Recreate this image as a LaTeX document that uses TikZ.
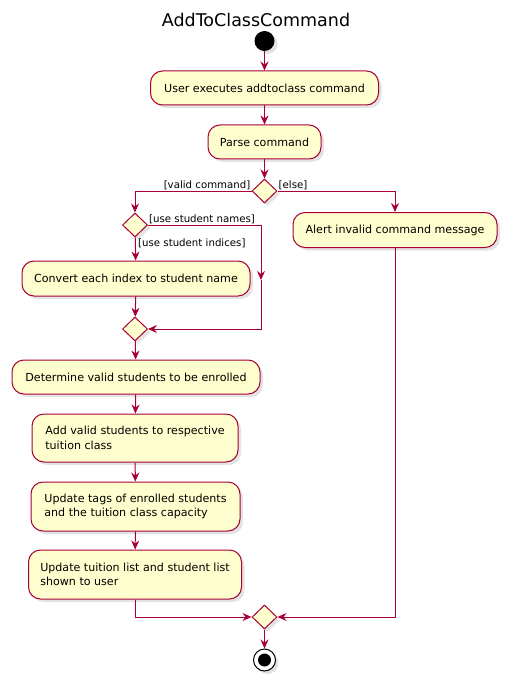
\documentclass[tikz,border=0pt]{standalone}
\usepackage{fontspec}
\setmainfont{DejaVu Sans}
\usetikzlibrary{arrows.meta,shapes.geometric,shadows}
\definecolor{umlred}{HTML}{A80036}
\definecolor{umlfill}{HTML}{FEFECE}
\tikzset{
  shd/.style={drop shadow={opacity=0.22,shadow xshift=3pt,shadow yshift=-3pt}},
  act/.style={draw=umlred,line width=1pt,fill=umlfill,rounded corners=12pt,shd,
    inner sep=0pt,font=\fontsize{11.1}{14.5}\selectfont,align=left},
  dia/.style={diamond,draw=umlred,line width=1pt,fill=umlfill,shd,inner sep=0pt,
    minimum width=25pt,minimum height=24pt},
  line/.style={draw=umlred,line width=1pt},
  arr/.style={line,-{Stealth[length=9pt,width=8pt,inset=3pt]}},
  lbl/.style={font=\fontsize{10.2}{12}\selectfont,inner sep=1pt},
}
\begin{document}
\begin{tikzpicture}[x=1pt,y=-1pt]
\useasboundingbox (0,0) rectangle (512,687);
\node[font=\fontsize{17.5}{20}\selectfont] (title) at (256,20) {AddToClassCommand};
\node[circle,fill=black,minimum size=20pt,inner sep=0pt,shd] (start) at (264.5,41) {};
\node[act,minimum width=228pt,minimum height=34pt] (n1) at (264.5,88) {User executes addtoclass command};
\node[act,minimum width=113pt,minimum height=34pt] (n2) at (264.5,142) {Parse command};
\node[dia] (d1) at (264.5,191) {};
\node[act,minimum width=204pt,minimum height=35pt] (alert) at (395,230) {Alert invalid command message};
\node[dia] (d2) at (135,225) {};
\node[act,minimum width=228pt,minimum height=35pt] (conv) at (136,278.5) {Convert each index to student name};
\node[dia] (d3) at (135,329) {};
\node[act,minimum width=248pt,minimum height=34pt] (det) at (136,377) {Determine valid students to be enrolled};
\node[act,minimum width=206pt,minimum height=48pt] (add) at (135,438) {Add valid students to respective\\tuition class};
\node[act,minimum width=209pt,minimum height=49pt] (upd) at (135.5,506.5) {Update tags of enrolled students\\and the tuition class capacity};
\node[act,minimum width=213pt,minimum height=49pt] (lst) at (135,574.5) {Update tuition list and student list\\shown to user};
\node[dia] (d4) at (264.5,617) {};
\node[circle,draw=black,line width=1pt,fill=white,minimum size=22pt,inner sep=0pt,shd] (end) at (264.5,660) {};
\node[circle,fill=black,minimum size=13pt,inner sep=0pt] (endin) at (264.5,660) {};
\coordinate (r1) at (261,225);
\coordinate (rm) at (261,280);
\coordinate (r2) at (261,329);
\draw[arr] (start) -- (n1);
\draw[arr] (n1) -- (n2);
\draw[arr] (n2) -- (d1);
\draw[arr] (d1.west) -| (d2.north);
\node[lbl,anchor=south east] (lv) at (d1.west) {[valid command]};
\draw[arr] (d1.east) -| (alert.north);
\node[lbl,anchor=south west] (le) at (d1.east) {[else]};
\draw[arr] (d2) -- (conv);
\node[lbl,anchor=north west] (li) at ([xshift=2pt]d2.south) {[use student indices]};
\draw[line] (d2.east) -- (r1);
\draw[arr] (r1) -- (rm);
\draw[arr] (rm) -- (r2) -- (d3.east);
\node[lbl,anchor=south west] (ln) at (d2.east) {[use student names]};
\draw[arr] (conv) -- (d3);
\draw[arr] (d3) -- (det);
\draw[arr] (det) -- (add);
\draw[arr] (add) -- (upd);
\draw[arr] (upd) -- (lst);
\draw[arr] (lst.south) |- (d4.west);
\draw[arr] (alert.south) |- (d4.east);
\draw[arr] (d4) -- (end);
\end{tikzpicture}
\end{document}
